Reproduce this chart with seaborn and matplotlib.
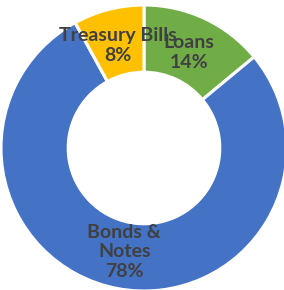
import matplotlib
matplotlib.use("Agg")
import matplotlib.pyplot as plt
import seaborn as sns
import numpy as np

categories = ["Loans", "Bonds &\nNotes", "Treasury Bills"]
values = [14, 78, 8]
colors = ["#70AD47", "#4472C4", "#FFC000"]

sns.set_style("white")
plt.rcParams['font.family'] = ['Lato', 'DejaVu Sans']

fig = plt.figure(figsize=(2.84, 2.90), dpi=100)
R = 143
cx, cy = 144, 148
ax = fig.add_axes([(cx - R) / 284, (290 - cy - R) / 290, 2 * R / 284, 2 * R / 290])

wedges, _ = ax.pie(values, colors=colors, startangle=90, counterclock=False,
                   radius=1.0,
                   wedgeprops=dict(width=0.47, edgecolor="white", linewidth=2.2))
total = sum(values)
start = 90.0
for cat, v in zip(categories, values):
    mid = start - v / total * 360 / 2
    start -= v / total * 360
    r = 0.74
    x, y = r * np.cos(np.radians(mid)), r * np.sin(np.radians(mid))
    ax.text(x, y, f"{cat}\n{v}%", ha="center", va="center", fontsize=14,
            fontweight="bold", color="#404040", linespacing=1.2)

ax.set_xlim(-1, 1)
ax.set_ylim(-1, 1)
ax.set_aspect("auto")
ax.axis("off")
fig.savefig("out.png", dpi=100)
